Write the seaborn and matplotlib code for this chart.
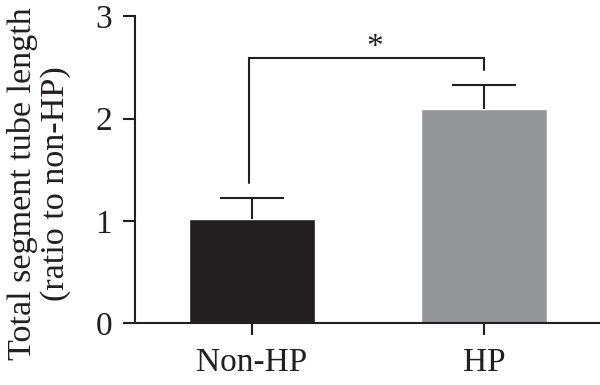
import matplotlib
matplotlib.use("Agg")
import matplotlib.pyplot as plt
import seaborn as sns
import numpy as np

groups = ["Non-HP", "HP"]
means = [1.016, 2.09]
sem = [0.205, 0.24]
bar_colors = ["#231f20", "#939598"]
bracket_y = 2.594
bracket_left_bottom = 1.37
bracket_right_bottom = 2.47
star_y = 2.69

sns.set_style("ticks")
plt.rcParams["font.family"] = ["Liberation Serif", "DejaVu Serif"]

fig = plt.figure(figsize=(6.0, 3.85), dpi=100)
ax = fig.add_axes([0.225, 0.160, 0.775, 0.798])

sns.barplot(x=groups, y=means, hue=groups, palette=bar_colors, width=0.54,
            saturation=1, legend=False, ax=ax, errorbar=None)
_, caps, _ = ax.errorbar(x=[0, 1], y=means, yerr=[[0, 0], sem], fmt="none",
                         ecolor="#231f20", elinewidth=1.5, capsize=22.7,
                         capthick=1.5)
caps[0].remove()

lw = 1.5
ax.plot([-0.012, -0.012, 1, 1],
        [bracket_left_bottom, bracket_y, bracket_y, bracket_right_bottom],
        color="#231f20", lw=lw, solid_joinstyle="miter")
ax.text(0.53, star_y, "*", ha="center", va="center", fontsize=24, color="#231f20")

ax.set_ylim(0, 3)
ax.set_xlim(-0.504, 1.5)
ax.set_yticks([0, 1, 2, 3])
ax.set_yticklabels(["0", "1", "2", "3"])
sns.despine(ax=ax)
for s in ["left", "bottom"]:
    ax.spines[s].set_linewidth(lw)
    ax.spines[s].set_color("#231f20")
ax.tick_params(axis="both", length=8.6, width=lw, color="#231f20",
               labelsize=24, labelcolor="#231f20")
ax.tick_params(axis="y", pad=8)
ax.tick_params(axis="x", pad=9)
ax.set_xlabel("")
ax.set_ylabel("Total segment tube length\n(ratio to non-HP)", fontsize=24.6,
              color="#231f20", linespacing=1.1)
ax.yaxis.set_label_coords(-0.138, 0.455)

fig.savefig("out.png", dpi=100)
